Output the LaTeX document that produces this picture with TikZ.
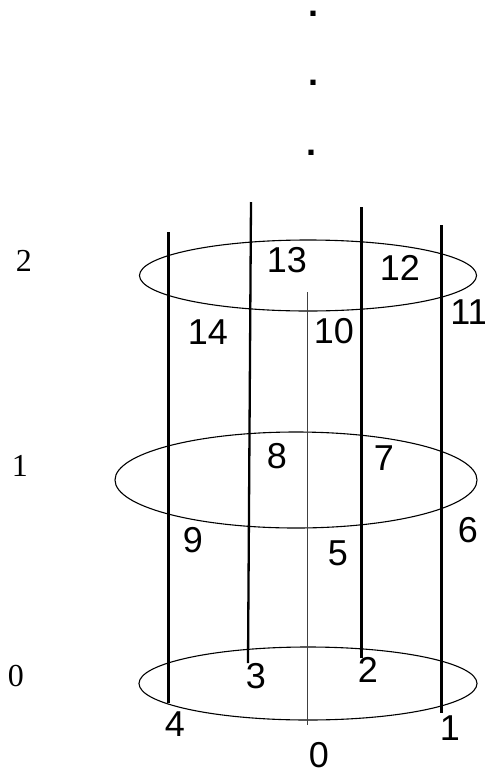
\documentclass[tikz,border=0pt]{standalone}
\usepackage{fontspec}
\setmainfont{Liberation Serif}
\newfontfamily\arialfont{Liberation Sans}
\usetikzlibrary{arrows.meta,positioning,calc}

\begin{document}
\begin{tikzpicture}[x=1pt,y=-1pt,>=Stealth,
    num/.style={font=\arialfont\fontsize{36}{36}\selectfont,inner sep=0pt},
    lev/.style={font=\fontsize{32}{32}\selectfont,inner sep=0pt},
    strand/.style={line width=3pt}]
  \useasboundingbox (0,0) rectangle (485,772);
  % rings at the three levels
  \draw[line width=1.1pt] (308,275.5) ellipse (168.5pt and 35.5pt);
  \draw[line width=1.1pt] (296,480) ellipse (181pt and 48pt);
  \draw[line width=1.1pt] (308,683.5) ellipse (169pt and 36.5pt);
  % axis
  \draw[line width=1pt,black!75] (307,292) -- (307,725);
  % strands
  \draw[strand] (168,232) -- (168,703);
  \draw[line width=2.3pt] (251,202) -- (248,663);
  \draw[strand] (361,207) -- (361,658);
  \draw[strand] (441,225) -- (441,713);
  % dots on top
  \foreach \i/\x/\y in {1/313/13.5,2/313.5/83,3/311.5/153}
     \node[num,font=\arialfont\bfseries\fontsize{36}{36}\selectfont] (dot\i) at (\x,\y) {.};
  \foreach \lab/\x/\y in {13/287/260,12/400/268,11/469/312,14/208/332,10/334/331,
                          8/277/456,7/384/458,9/193/540,5/338/553,6/468/530,
                          3/256/676,2/368/670,4/175/724,1/450/728,0/319/755}
     \node[num] (n\lab) at (\x,\y) {\lab};
  \foreach \lab/\x/\y in {2/24/261,1/20/466,0/16/676}
     \node[lev] (lev\lab) at (\x,\y) {\lab};
\end{tikzpicture}
\end{document}
